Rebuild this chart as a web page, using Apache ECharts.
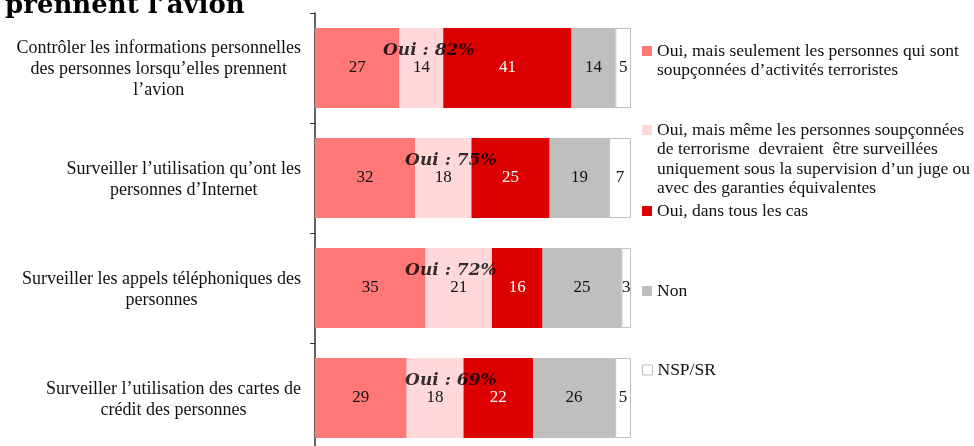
<!DOCTYPE html>
<html lang="fr">
<head>
<meta charset="UTF-8"/>
<title>surveillance</title>
<script src="https://cdn.jsdelivr.net/npm/echarts@6/dist/echarts.min.js"></script>
<style>
  html, body { margin: 0; padding: 0; background: #fff; }
  #main { width: 974px; height: 446px; }
</style>
</head>
<body>
<div id="main"></div>
<script type="text/javascript">
    // categories, top to bottom
    var categories = [
        'Contrôler les informations personnelles\ndes personnes lorsqu\u2019elles prennent\nl\u2019avion',
        'Surveiller l\u2019utilisation qu\u2019ont les\npersonnes d\u2019Internet',
        'Surveiller les appels téléphoniques des\npersonnes',
        'Surveiller l\u2019utilisation des cartes de\ncrédit des personnes'
    ];
    var seriesNames = [
        'Oui, mais seulement les personnes qui sont\nsoupçonnées d\u2019activités terroristes',
        'Oui, mais même les personnes soupçonnées\nde terrorisme  devraient  être surveillées\nuniquement sous la supervision d\u2019un juge ou\navec des garanties équivalentes',
        'Oui, dans tous les cas',
        'Non',
        'NSP/SR'
    ];
    var ouiSeulement = [27, 32, 35, 29];
    var ouiJuge = [14, 18, 21, 18];
    var ouiTous = [41, 25, 16, 22];
    var non = [14, 19, 25, 26];
    var nsp = [5, 7, 3, 5];
    // where the "Oui : x%" note sits along each bar (% of bar length)
    var ouiPos = [36, 43, 43, 43];

    var colors = ['#FF7777', '#FFD9D9', '#DD0000', '#BFBFBF', '#FFFFFF'];
    var labelColors = ['#111', '#111', '#fff', '#111', '#111'];
    var raw = [ouiSeulement, ouiJuge, ouiTous, non, nsp];
    var totals = categories.map(function (c, i) {
        return raw.reduce(function (s, arr) { return s + arr[i]; }, 0);
    });
    var serif = '"Liberation Serif", "DejaVu Serif", serif';
    var wide = '"DejaVu Serif", "Liberation Serif", serif';

    var series = raw.map(function (arr, k) {
        return {
            name: seriesNames[k],
            type: 'bar',
            stack: 'total',
            barWidth: 80,
            itemStyle: {
                color: colors[k],
                borderColor: k === 4 ? '#BFBFBF' : colors[k],
                borderWidth: k === 4 ? 1 : 0
            },
            label: {
                show: true,
                position: 'inside',
                color: labelColors[k],
                fontFamily: serif,
                fontSize: 17,
                formatter: function (p) { return arr[p.dataIndex]; }
            },
            data: arr.map(function (v, i) { return v / totals[i] * 100; })
        };
    });
    series.push({
        type: 'scatter',
        symbolSize: 0,
        silent: true,
        z: 5,
        label: {
            show: true,
            position: 'inside',
            offset: [0, -17],
            color: '#000',
            fontFamily: wide,
            fontSize: 17,
            fontWeight: 'bold',
            fontStyle: 'italic',
            formatter: function (p) {
                var i = p.dataIndex;
                return 'Oui : ' + (ouiSeulement[i] + ouiJuge[i] + ouiTous[i]) + '%';
            }
        },
        data: ouiPos.map(function (x, i) { return [x, i]; })
    });

    // legend: icon sits on the first line of each entry (blank lines above balance the block)
    var lh = 19.5;
    var legendFirstLine = [51, 130, 211, 291, 370];
    var legends = seriesNames.map(function (n, k) {
        var lines = n.split('\n').length;
        return {
            data: [n],
            left: 642,
            top: legendFirstLine[k] - (2 * lines - 1) * lh / 2,
            padding: 0,
            icon: 'rect',
            itemWidth: 10,
            itemHeight: 10,
            selectedMode: false,
            formatter: function (name) {
                return new Array(lines).join('\n') + name;
            },
            itemStyle: k === 4 ? { borderColor: '#BFBFBF', borderWidth: 1 } : {},
            textStyle: {
                fontFamily: serif,
                fontSize: 17.5,
                lineHeight: lh,
                color: '#111'
            }
        };
    });

    var myChart = echarts.init(document.getElementById('main'));
    var option = {
        animation: false,
        color: colors,
        title: {
            text: 'prennent l\u2019avion',
            left: 0,
            top: -12,
            textStyle: { fontFamily: wide, fontSize: 26, fontWeight: 'bold', color: '#000' }
        },
        legend: legends,
        grid: { left: 315, top: 13, width: 316, height: 440, outerBoundsMode: 'none', containLabel: false },
        xAxis: {
            type: 'value',
            min: 0,
            max: 100,
            show: false
        },
        yAxis: {
            type: 'category',
            inverse: true,
            data: categories,
            axisLine: { show: true, lineStyle: { color: '#333', width: 1.5 } },
            axisTick: { show: true, length: 5, lineStyle: { color: '#333' } },
            axisLabel: {
                margin: 14,
                align: 'right',
                formatter: function (v) {
                    return v.split('\n').map(function (l) { return '{c|' + l + '}'; }).join('\n');
                },
                rich: {
                    c: { align: 'center', fontFamily: serif, fontSize: 18, lineHeight: 21, color: '#111', padding: [3, 0, 0, 0] }
                }
            }
        },
        series: series
    };
    myChart.setOption(option);
</script>
</body>
</html>
